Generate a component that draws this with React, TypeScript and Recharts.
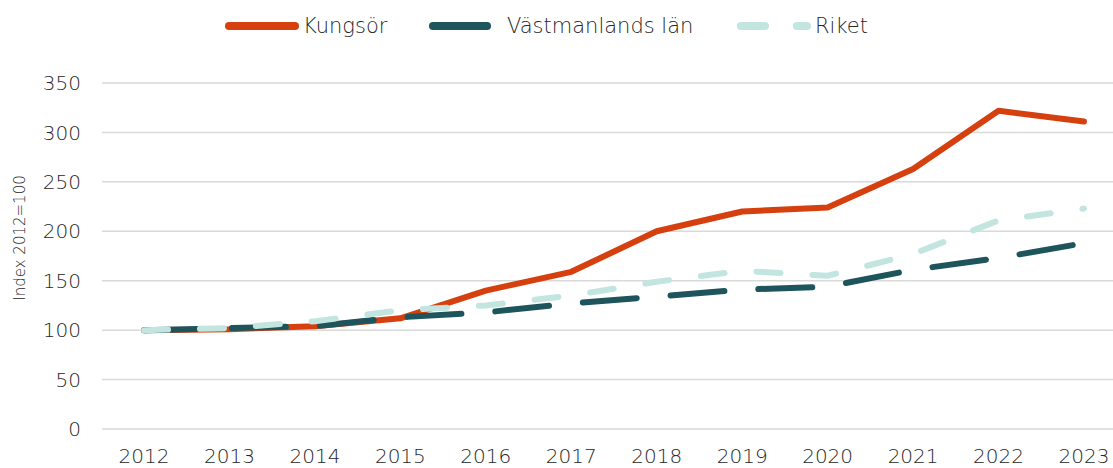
import { LineChart, Line, XAxis, YAxis, CartesianGrid } from 'recharts';

const YEARS = ['2012', '2013', '2014', '2015', '2016', '2017', '2018', '2019', '2020', '2021', '2022', '2023'];
const KUNGSOR = [100, 101, 104, 112, 140, 159, 200, 220, 224, 263, 322, 311];
const VASTMANLAND = [100, 102, 104, 113, 118, 127, 134, 141, 144, 161, 173, 188];
const RIKET = [100, 102, 109, 120, 125, 135, 149, 160, 155, 177, 211, 223];
const Y_TICKS = [0, 50, 100, 150, 200, 250, 300, 350];

const FONT = '"DejaVu Sans", sans-serif';
const TEXT = '#262626';

// legend positions (icon left, text left)
const SERIES = [
    { key: 'kungsor', name: 'Kungsör', color: '#D5400E', dash: undefined as string | undefined, icon: 225, text: 303 },
    { key: 'vastmanland', name: 'Västmanlands län', color: '#1E545B', dash: '54 34', icon: 429, text: 507 },
    { key: 'riket', name: 'Riket', color: '#C3E5E0', dash: '24 32', icon: 737, text: 815 },
];

const data = YEARS.map((year, i) => ({
    year,
    kungsor: KUNGSOR[i],
    vastmanland: VASTMANLAND[i],
    riket: RIKET[i],
}));

const YLabel = () => (
    <text
        x={20}
        y={238}
        transform="rotate(-90, 20, 238)"
        textAnchor="middle"
        dominantBaseline="central"
        fill={TEXT}
        fontSize={15}
        fontFamily={FONT}
        fontWeight={200}
    >
        Index 2012=100
    </text>
);

function ChartLegend() {
    return (
        <div style={{ position: 'absolute', left: 0, top: 12, width: 1113, height: 28, fontFamily: FONT, fontWeight: 200, fontSize: 21, color: TEXT }}>
            {SERIES.map((s) => (
                <div key={s.key}>
                    <svg width={80} height={28} style={{ position: 'absolute', left: s.icon - 4, top: 0 }}>
                        <line x1={8} y1={14} x2={74} y2={14} stroke={s.color} strokeWidth={8} strokeLinecap="round" strokeDasharray={s.dash} />
                    </svg>
                    <span style={{ position: 'absolute', left: s.text, top: 0, lineHeight: '28px', whiteSpace: 'nowrap' }}>{s.name}</span>
                </div>
            ))}
        </div>
    );
}

export default function App() {
    return (
        <div style={{ position: 'absolute', left: 0, top: 0, width: 1113, height: 468, overflow: 'hidden', background: '#fff' }}>
            <ChartLegend />
            <LineChart width={1128} height={468} data={data} margin={{ top: 83, right: 2, left: 0, bottom: 0 }}>
                <CartesianGrid vertical={false} stroke="#D9D9D9" strokeWidth={1.5} />
                <XAxis
                    dataKey="year"
                    axisLine={false}
                    tickLine={false}
                    tickSize={0}
                    tickMargin={20}
                    height={39}
                    interval={0}
                    padding={{ left: 42, right: 42 }}
                    tick={{ fill: TEXT, fontSize: 20, fontFamily: FONT, fontWeight: 200 }}
                />
                <YAxis
                    domain={[0, 350]}
                    ticks={Y_TICKS}
                    axisLine={false}
                    tickLine={false}
                    tickSize={0}
                    tickMargin={21}
                    width={102}
                    tick={{ fill: TEXT, fontSize: 20, fontFamily: FONT, fontWeight: 200 }}
                    label={<YLabel />}
                />
                {SERIES.map((s) => (
                    <Line
                        key={s.key}
                        dataKey={s.key}
                        name={s.name}
                        type="linear"
                        stroke={s.color}
                        strokeWidth={6}
                        strokeDasharray={s.dash}
                        strokeLinecap="round"
                        strokeLinejoin="round"
                        dot={false}
                        activeDot={false}
                        isAnimationActive={false}
                    />
                ))}
            </LineChart>
        </div>
    );
}
